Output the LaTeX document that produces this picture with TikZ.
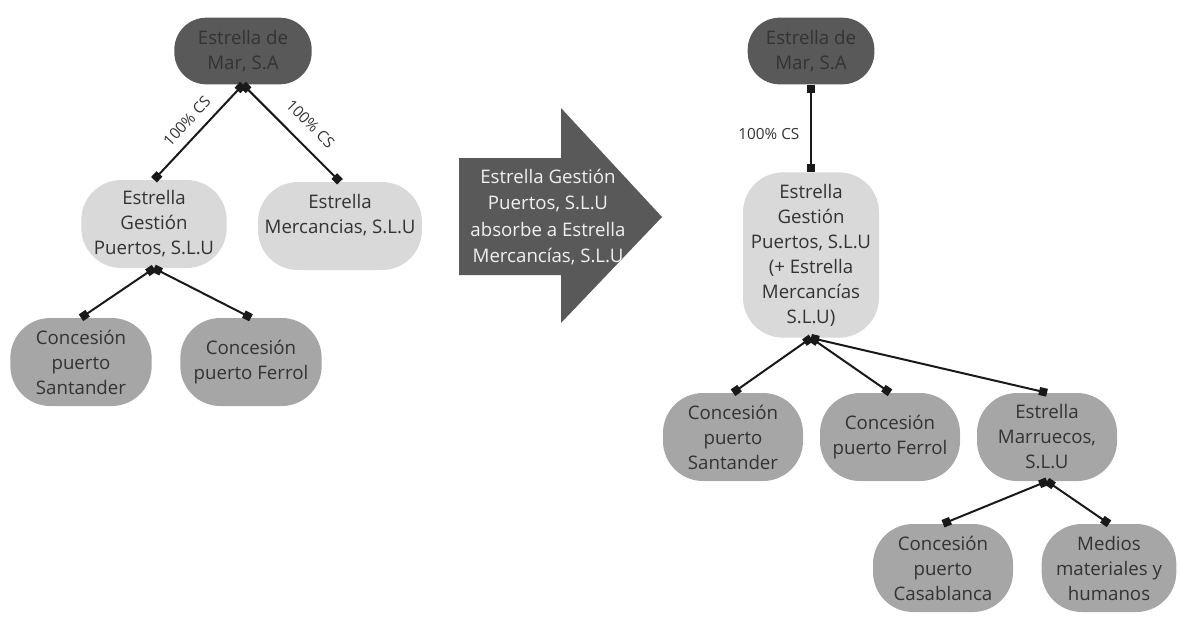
\documentclass[tikz,border=0pt]{standalone}
\usepackage{fontspec}
\setmainfont{Open Sans}
\usetikzlibrary{arrows.meta}
\definecolor{emdark}{HTML}{595959}
\definecolor{emlight}{HTML}{D9D9D9}
\definecolor{emmid}{HTML}{A6A6A6}
\definecolor{emtext}{HTML}{333333}
\definecolor{emwhite}{HTML}{F0F0F0}

\begin{document}
\begin{tikzpicture}[
      x=0.75pt, y=-0.75pt,
      font=\fontsize{14}{18.75}\selectfont,
      box/.style={rounded corners=30pt, inner sep=0pt, align=center, text=emtext,
                  minimum width=105pt, minimum height=66pt},
      topbox/.style={box, fill=emdark, minimum height=50pt, rounded corners=24pt},
      midbox/.style={box, fill=emlight},
      subbox/.style={box, fill=emmid},
      link/.style={{Square[length=6pt,width=6pt]}-{Square[length=6pt,width=6pt]},
                   line width=1.5pt, draw=black!90},
      cslbl/.style={font=\fontsize{11.5}{14}\selectfont, text=emtext, inner sep=2pt},
      mergetxt/.style={align=center, text=emwhite, font=\fontsize{14}{19.8}\selectfont}
    ]
    \useasboundingbox (0,0) rectangle (1180,626);
    % ------------- Before -------------
    \node[topbox, minimum width=103pt] (top1) at (243,51) {Estrella de\\Mar, S.A};
    \node[midbox, minimum width=109pt] (gest1) at (154,224) {Estrella\\Gestión\\Puertos, S.L.U};
    \node[midbox, minimum width=123pt] (merc1) at (340,226) {Estrella\\Mercancias, S.L.U\\~};
    \node[subbox, minimum width=106pt] (sant1) at (81,362) {Concesión\\puerto\\Santander};
    \node[subbox, minimum width=106pt] (ferr1) at (251,362) {Concesión\\puerto Ferrol};
    \draw[link] (top1.south) -- node[cslbl, sloped, above=5pt, pos=0.5] {100\% CS} (gest1.north);
    \draw[link] (top1.south) -- node[cslbl, sloped, above=8pt, pos=0.55] {100\% CS} (merc1.north);
    \draw[link] (gest1.south) -- (sant1.north);
    \draw[link] (gest1.south) -- (ferr1.north);
    % ------------- Merge arrow -------------
    \fill[emdark] (459,158) -- (561,158) -- (561,108) -- (662,217) -- (561,323)
      -- (561,275) -- (459,275) -- cycle;
    \node[mergetxt] (merge) at (548,217)
      {Estrella Gestión\\Puertos, S.L.U\\absorbe a Estrella\\Mercancías, S.L.U};
    % ------------- After -------------
    \node[topbox, minimum width=95pt] (top2) at (811,51) {Estrella de\\Mar, S.A};
    \node[midbox, minimum width=102pt, minimum height=124pt] (gest2) at (811,255)
      {Estrella\\Gestión\\Puertos, S.L.U\\(+ Estrella\\Mercancías\\S.L.U)};
    \node[subbox] (sant2) at (733,437) {Concesión\\puerto\\Santander};
    \node[subbox] (ferr2) at (890,437) {Concesión\\puerto Ferrol};
    \node[subbox] (marr2) at (1047,437) {Estrella\\Marruecos,\\S.L.U};
    \node[subbox] (casa2) at (943,568) {Concesión\\puerto\\Casablanca};
    \node[subbox, minimum width=101pt] (medi2) at (1109,568) {Medios\\materiales y\\humanos};
    \draw[link] (top2.south) -- node[cslbl, left=6pt, pos=0.57] {100\% CS} (gest2.north);
    \draw[link] (gest2.south) -- (sant2.north);
    \draw[link] (gest2.south) -- (ferr2.north);
    \draw[link] (gest2.south) -- (marr2.north);
    \draw[link] (marr2.south) -- (casa2.north);
    \draw[link] (marr2.south) -- (medi2.north);
  \end{tikzpicture}
\end{document}
